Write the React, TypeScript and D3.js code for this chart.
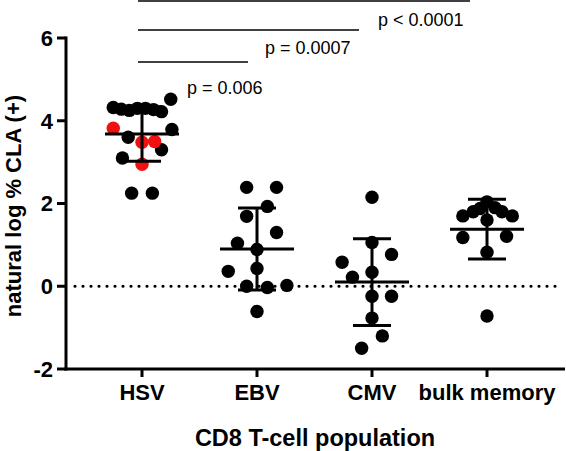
import React from "react";
import * as d3 from "d3";

const categories = ["HSV", "EBV", "CMV", "bulk memory"];

// values (natural log % CLA+) and column-scatter offsets (fraction of category step)
const hsvBlack = [4.52, 4.32, 4.28, 4.25, 4.3, 4.3, 4.27, 4.22, 3.79, 3.6, 3.3, 3.1, 2.25, 2.25];
const hsvBlackJitter = [0.25, -0.25, -0.18, -0.11, -0.04, 0.03, 0.1, 0.17, 0.26, -0.12, 0.17, -0.17, -0.09, 0.09];
const hsvRed = [3.82, 3.48, 3.5, 2.95];
const hsvRedJitter = [-0.25, 0.0, 0.11, 0.0];
const ebvValues = [2.39, 2.39, 1.93, 1.69, 1.3, 1.04, 0.89, 0.43, 0.36, 0.0, -0.03, 0.02, -0.61];
const ebvJitter = [-0.09, 0.17, 0.09, -0.09, 0.17, -0.17, 0.0, 0.0, -0.25, -0.09, 0.09, 0.26, 0.0];
const cmvValues = [2.15, 1.06, 0.77, 0.58, 0.34, 0.22, -0.24, -0.24, -0.77, -1.2, -1.5];
const cmvJitter = [0.0, 0.0, 0.17, -0.26, 0.0, -0.17, 0.0, 0.17, 0.0, 0.09, -0.09];
const bulkValues = [2.04, 1.9, 1.88, 1.8, 1.8, 1.7, 1.7, 1.6, 1.18, 1.21, 0.82, -0.72];
const bulkJitter = [0.0, 0.07, -0.06, -0.12, 0.13, -0.21, 0.22, 0.0, -0.21, 0.17, 0.0, 0.0];

const groupMeans = [3.68, 0.9, 0.1, 1.38];
const groupSDs = [0.66, 0.99, 1.05, 0.72];

const yTicks = [6, 4, 2, 0, -2];

const comparisons = [
  { target: "EBV", label: "p = 0.006" },
  { target: "CMV", label: "p = 0.0007" },
  { target: "bulk memory", label: "p < 0.0001" },
];

const FONT = "'Liberation Sans', Arial, Helvetica, sans-serif";

export default function App() {
  const width = 566;
  const height = 451;
  const axisX = 66;
  const axisY = 369;

  const x = d3.scalePoint<string>().domain(categories).range([142, 487]);
  const step = x.step();
  const y = d3.scaleLinear().domain([-2, 6]).range([369, 38]);

  const r = 6.7;

  const dotGroups = [
    { cat: "HSV", vals: hsvBlack, jit: hsvBlackJitter, color: "#000" },
    { cat: "HSV", vals: hsvRed, jit: hsvRedJitter, color: "#f01010" },
    { cat: "EBV", vals: ebvValues, jit: ebvJitter, color: "#000" },
    { cat: "CMV", vals: cmvValues, jit: cmvJitter, color: "#000" },
    { cat: "bulk memory", vals: bulkValues, jit: bulkJitter, color: "#000" },
  ];

  const meanHalf = 37;
  const capHalf = 19;

  const bracketY = [62, 30, 1];
  const labelBaseline = [94, 54, 26];
  const labelX = [187, 265, 378];

  return (
    <svg
      width={width}
      height={height}
      style={{ position: "absolute", left: 0, top: 0, background: "#fff" }}
      fontFamily={FONT}
    >
      <rect x={0} y={0} width={width} height={height} fill="#fff" />

      <line
        x1={axisX + 9}
        x2={width - 4}
        y1={y(0)}
        y2={y(0)}
        stroke="#000"
        strokeWidth={3.2}
        strokeDasharray="0,8"
        strokeLinecap="round"
      />

      {dotGroups.map((g, gi) =>
        g.vals.map((v, i) => (
          <circle
            key={`${gi}-${i}`}
            cx={(x(g.cat) as number) + g.jit[i] * step}
            cy={y(v)}
            r={r}
            fill={g.color}
          />
        ))
      )}

      {categories.map((c, i) => {
        const cx = x(c) as number;
        const m = groupMeans[i];
        const s = groupSDs[i];
        return (
          <g key={c} stroke="#000" strokeWidth={3}>
            <line x1={cx - meanHalf} x2={cx + meanHalf} y1={y(m)} y2={y(m)} />
            <line x1={cx} x2={cx} y1={y(m + s)} y2={y(m - s)} />
            <line x1={cx - capHalf} x2={cx + capHalf} y1={y(m + s)} y2={y(m + s)} />
            <line x1={cx - capHalf} x2={cx + capHalf} y1={y(m - s)} y2={y(m - s)} />
          </g>
        );
      })}

      <line x1={axisX} x2={axisX} y1={y(6) - 1.5} y2={axisY + 1.5} stroke="#000" strokeWidth={3} />
      <line x1={axisX - 1.5} x2={width - 1} y1={axisY} y2={axisY} stroke="#000" strokeWidth={3} />

      {yTicks.map((t) => (
        <g key={t}>
          <line x1={axisX - 9} x2={axisX} y1={y(t)} y2={y(t)} stroke="#000" strokeWidth={3} />
          <text
            x={axisX - 13}
            y={y(t)}
            dy="0.36em"
            textAnchor="end"
            fontSize={22}
            fontWeight="bold"
            fill="#000"
          >
            {t}
          </text>
        </g>
      ))}

      {categories.map((c) => (
        <g key={c}>
          <line x1={x(c)} x2={x(c)} y1={axisY} y2={axisY + 8} stroke="#000" strokeWidth={3} />
          <text x={x(c)} y={400} textAnchor="middle" fontSize={22} fontWeight="bold" fill="#000">
            {c}
          </text>
        </g>
      ))}

      <text x={315} y={446} textAnchor="middle" fontSize={23.5} fontWeight="bold" fill="#000">
        CD8 T-cell population
      </text>

      <text
        transform={`translate(21, 206) rotate(-90)`}
        textAnchor="middle"
        fontSize={22}
        fontWeight="bold"
        fill="#000"
      >
        natural log % CLA (+)
      </text>

      {comparisons.map((cmp, i) => {
        const x1 = (x("HSV") as number) - 4;
        const x2 = (x(cmp.target) as number) - 9 - i * 4;
        return (
          <g key={cmp.label}>
            <line x1={x1} x2={x2} y1={bracketY[i]} y2={bracketY[i]} stroke="#000" strokeWidth={1.6} />
            <text x={labelX[i]} y={labelBaseline[i]} fontSize={18} fill="#000">
              {cmp.label}
            </text>
          </g>
        );
      })}
    </svg>
  );
}
